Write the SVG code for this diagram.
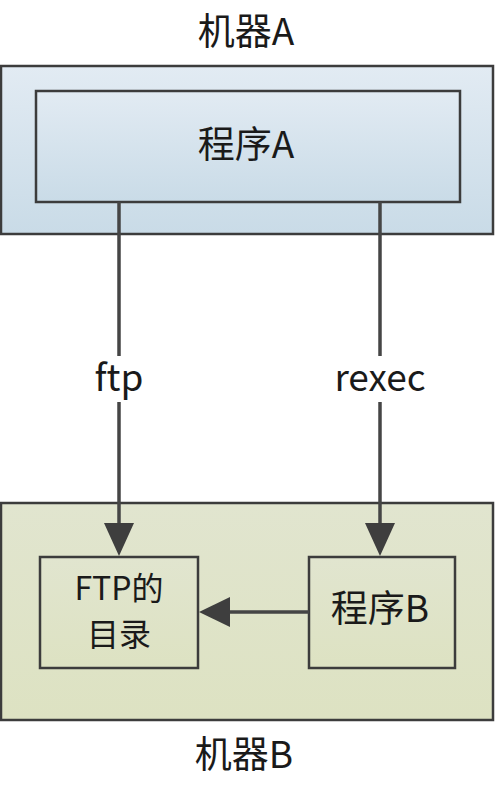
<svg xmlns="http://www.w3.org/2000/svg" width="500" height="785" viewBox="0 0 500 785">
<style>
.t{font-family:"Noto Sans CJK SC","Noto Sans",sans-serif;font-size:37px;fill:#1a1a1a;text-anchor:middle}
.big{font-size:37px}
.sm{font-size:32px}
.box{stroke:#3c3c3c;stroke-width:2.5}
.ln{stroke:#454545;stroke-width:3.5;fill:none}
</style>
<defs>
<linearGradient id="gA" x1="0" y1="0" x2="0" y2="1"><stop offset="0" stop-color="#e2ebf3"/><stop offset="1" stop-color="#c9dbe7"/></linearGradient>
<linearGradient id="gB" x1="0" y1="0" x2="0" y2="1"><stop offset="0" stop-color="#e1e5cf"/><stop offset="1" stop-color="#dde2c2"/></linearGradient>
</defs>
<rect width="500" height="785" fill="#ffffff"/>
<g id="machineA">
<rect class="box" x="1" y="66" width="492" height="168" fill="url(#gA)"/>
<text class="t big" x="246" y="45">机器A</text>
</g>
<g id="progA">
<rect class="box" x="36" y="91" width="424" height="111" fill="url(#gA)"/>
<text class="t" x="246" y="158">程序A</text>
</g>
<g id="machineB">
<rect class="box" x="1" y="503" width="492" height="217" fill="url(#gB)"/>
<text class="t big" x="244" y="768">机器B</text>
</g>
<g id="ftpdir">
<rect class="box" x="40" y="557" width="158" height="111" fill="url(#gB)"/>
<text class="t sm" x="119" y="600">FTP的</text>
<text class="t sm" x="119" y="646">目录</text>
</g>
<g id="progB">
<rect class="box" x="309" y="557" width="146" height="111" fill="url(#gB)"/>
<text class="t" x="380" y="622">程序B</text>
</g>
<g id="connectors">
<path class="ln" d="M119,202 V524"/>
<path d="M104,523 L134,523 L119,556 z" fill="#3e3e3e"/>
<path class="ln" d="M380,202 V524"/>
<path d="M365,523 L395,523 L380,556 z" fill="#3e3e3e"/>
<path class="ln" d="M309,612 H228"/>
<path d="M230,597 L230,627 L199,612 z" fill="#3e3e3e"/>
<rect x="85" y="356" width="68" height="46" fill="#ffffff"/>
<rect x="328" y="356" width="104" height="46" fill="#ffffff"/>
<text class="t" x="119" y="391">ftp</text>
<text class="t" x="380" y="391">rexec</text>
</g>
</svg>
